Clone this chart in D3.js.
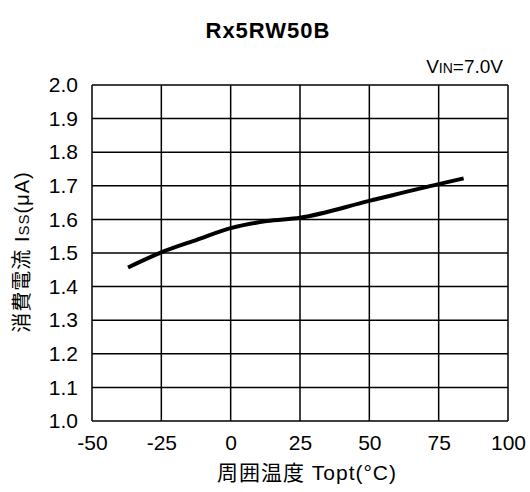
<!DOCTYPE html>
<html lang=en>
<head>
	<meta charset="utf-8">
	<title>Rx5RW50B supply current vs temperature</title>
	<script src="https://cdn.jsdelivr.net/npm/d3@7"></script>
	<style>
		body { margin: 0; background: #fff; }
		text { font-family: "Liberation Sans", Arial, sans-serif; fill: #000; }
	</style>
</head>
<body>
	<script type="text/javascript">
	// data
	var temps = [-37, -25, -12, 0, 13, 25, 50, 75, 84];
	var current = [1.457, 1.502, 1.540, 1.574, 1.595, 1.605, 1.655, 1.705, 1.722];
	var xTicks = [-50, -25, 0, 25, 50, 75, 100];
	var yTicks = [1.0, 1.1, 1.2, 1.3, 1.4, 1.5, 1.6, 1.7, 1.8, 1.9, 2.0];

	var pts = temps.map(function(t, i){ return {t: t, v: current[i]}; });

	var svg = d3.select('body').append('svg')
				.attr('width', 530)
				.attr('height', 492);

	var plotL = 92, plotR = 508, plotT = 85, plotB = 421;

	var x = d3.scaleLinear().domain([-50, 100]).range([plotL, plotR]);
	var y = d3.scaleLinear().domain([1.0, 2.0]).range([plotB, plotT]);

	// grid
	svg.append('g').selectAll('line')
		.data(xTicks)
		.enter().append('line')
		.attr('x1', function(d){ return x(d); })
		.attr('x2', function(d){ return x(d); })
		.attr('y1', plotT).attr('y2', plotB)
		.attr('stroke', '#000').attr('stroke-width', 1.5);

	svg.append('g').selectAll('line')
		.data(yTicks)
		.enter().append('line')
		.attr('y1', function(d){ return y(d); })
		.attr('y2', function(d){ return y(d); })
		.attr('x1', plotL).attr('x2', plotR)
		.attr('stroke', '#000').attr('stroke-width', 1.5);

	// axes labels only (no tick marks)
	var xAxis = svg.append('g')
		.attr('transform', 'translate(0,' + plotB + ')')
		.call(d3.axisBottom(x).tickValues(xTicks).tickSize(0).tickPadding(14)
			.tickFormat(function(d){ return String(d); }));
	xAxis.select('.domain').remove();
	xAxis.attr('font-family', null).attr('font-size', null);
	xAxis.selectAll('text').style('font-size', '21px');

	var yAxis = svg.append('g')
		.attr('transform', 'translate(' + (plotL - 14) + ',0)')
		.call(d3.axisLeft(y).tickValues(yTicks).tickSize(0).tickPadding(0).tickFormat(d3.format('.1f')));
	yAxis.select('.domain').remove();
	yAxis.attr('font-family', null).attr('font-size', null);
	yAxis.selectAll('text').style('font-size', '21px');

	// curve
	var line = d3.line()
		.x(function(d){ return x(d.t); })
		.y(function(d){ return y(d.v); })
		.curve(d3.curveMonotoneX);

	svg.append('path')
		.datum(pts)
		.attr('d', line)
		.attr('fill', 'none')
		.attr('stroke', '#000')
		.attr('stroke-width', 4);

	// title
	svg.append('text')
		.attr('x', 268).attr('y', 38)
		.attr('text-anchor', 'middle')
		.style('font-size', '22px').style('font-weight', 'bold')
		.style('letter-spacing', '1px')
		.text('Rx5RW50B');

	// condition
	var cond = svg.append('text')
		.attr('x', 503).attr('y', 73)
		.attr('text-anchor', 'end')
		.style('font-size', '19px');
	cond.append('tspan').text('V');
	cond.append('tspan').style('font-size', '14px').text('IN');
	cond.append('tspan').text('=7.0V');

	// x title
	svg.append('text')
		.attr('x', 307).attr('y', 480)
		.attr('text-anchor', 'middle')
		.style('font-size', '21px')
		.style('letter-spacing', '1px')
		.style('font-family', '"Liberation Sans", "Noto Sans CJK JP", sans-serif')
		.text('周囲温度 Topt(°C)');

	// y title
	var yt = svg.append('text')
		.attr('transform', 'translate(29,' + 252 + ') rotate(-90)')
		.attr('text-anchor', 'middle')
		.style('font-size', '20px')
		.style('letter-spacing', '1px')
		.style('font-family', '"Liberation Sans", "Noto Sans CJK JP", sans-serif');
	yt.append('tspan').text('消費電流  I');
	yt.append('tspan').style('font-size', '15px').text('SS');
	yt.append('tspan').text('(μA)');
	</script>
</body>
</html>
